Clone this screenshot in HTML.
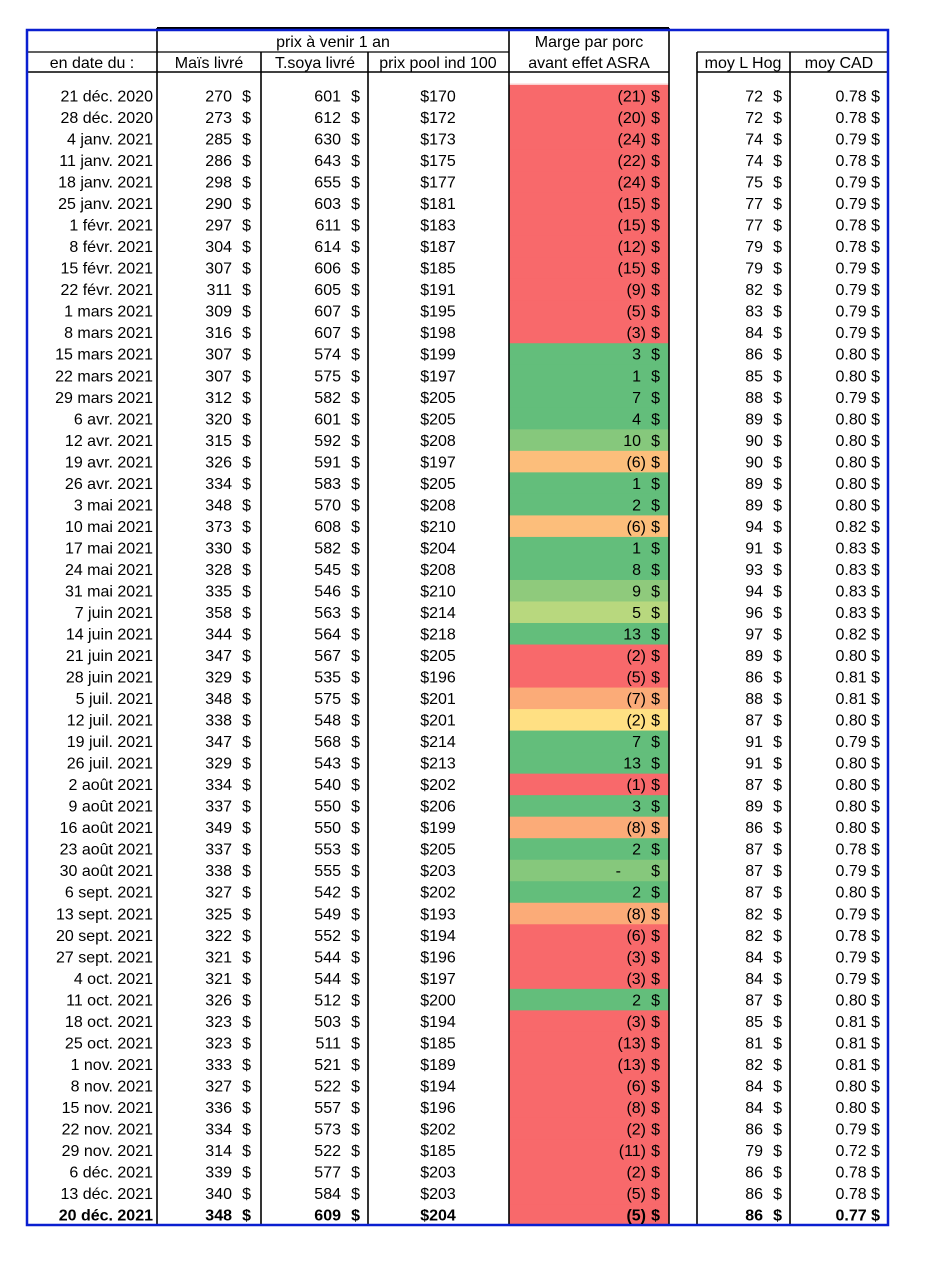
<!DOCTYPE html>
<html><head><meta charset="utf-8">
<style>
body{margin:0;background:#fff;}
svg{display:block;font-family:"Liberation Sans",Arial,sans-serif;font-size:16px;}
</style></head>
<body>
<svg id="t" width="928" height="1274" xmlns="http://www.w3.org/2000/svg"></svg>
<script>
const dates=["21 déc. 2020","28 déc. 2020","4 janv. 2021","11 janv. 2021","18 janv. 2021","25 janv. 2021","1 févr. 2021","8 févr. 2021","15 févr. 2021","22 févr. 2021","1 mars 2021","8 mars 2021","15 mars 2021","22 mars 2021","29 mars 2021","6 avr. 2021","12 avr. 2021","19 avr. 2021","26 avr. 2021","3 mai 2021","10 mai 2021","17 mai 2021","24 mai 2021","31 mai 2021","7 juin 2021","14 juin 2021","21 juin 2021","28 juin 2021","5 juil. 2021","12 juil. 2021","19 juil. 2021","26 juil. 2021","2 août 2021","9 août 2021","16 août 2021","23 août 2021","30 août 2021","6 sept. 2021","13 sept. 2021","20 sept. 2021","27 sept. 2021","4 oct. 2021","11 oct. 2021","18 oct. 2021","25 oct. 2021","1 nov. 2021","8 nov. 2021","15 nov. 2021","22 nov. 2021","29 nov. 2021","6 déc. 2021","13 déc. 2021","20 déc. 2021"];
const mais=[270,273,285,286,298,290,297,304,307,311,309,316,307,307,312,320,315,326,334,348,373,330,328,335,358,344,347,329,348,338,347,329,334,337,349,337,338,327,325,322,321,321,326,323,323,333,327,336,334,314,339,340,348];
const soya=[601,612,630,643,655,603,611,614,606,605,607,607,574,575,582,601,592,591,583,570,608,582,545,546,563,564,567,535,575,548,568,543,540,550,550,553,555,542,549,552,544,544,512,503,511,521,522,557,573,522,577,584,609];
const pool=[170,172,173,175,177,181,183,187,185,191,195,198,199,197,205,205,208,197,205,208,210,204,208,210,214,218,205,196,201,201,214,213,202,206,199,205,203,202,193,194,196,197,200,194,185,189,194,196,202,185,203,203,204];
const marge=[-21,-20,-24,-22,-24,-15,-15,-12,-15,-9,-5,-3,3,1,7,4,10,-6,1,2,-6,1,8,9,5,13,-2,-5,-7,-2,7,13,-1,3,-8,2,0,2,-8,-6,-3,-3,2,-3,-13,-13,-6,-8,-2,-11,-2,-5,-5];
const margeColor=["R","R","R","R","R","R","R","R","R","R","R","R","G","G","G","G","g1","O","G","G","O","G","G","g2","yg","G","R","R","O2","Y","G","G","R","G","O2","G","g1","G","O2","R","R","R","G","R","R","R","R","R","R","R","R","R","R"];
const hog=[72,72,74,74,75,77,77,79,79,82,83,84,86,85,88,89,90,90,89,89,94,91,93,94,96,97,89,86,88,87,91,91,87,89,86,87,87,87,82,82,84,84,87,85,81,82,84,84,86,79,86,86,86];
const cad=[0.78,0.78,0.79,0.78,0.79,0.79,0.78,0.78,0.79,0.79,0.79,0.79,0.80,0.80,0.79,0.80,0.80,0.80,0.80,0.80,0.82,0.83,0.83,0.83,0.83,0.82,0.80,0.81,0.81,0.80,0.79,0.80,0.80,0.80,0.80,0.78,0.79,0.80,0.79,0.78,0.79,0.79,0.80,0.81,0.81,0.81,0.80,0.80,0.79,0.72,0.78,0.78,0.77];
const palette={R:"#f8696b",G:"#63be7b",g1:"#86c87c",g2:"#8fca7c",yg:"#b8d87e",O:"#fcbe7b",O2:"#fbab78",Y:"#ffe083"};

const svg=document.getElementById('t');
const NS="http://www.w3.org/2000/svg";
function mk(tag,attrs,txt){const e=document.createElementNS(NS,tag);for(const k in attrs)e.setAttribute(k,attrs[k]);if(txt!==undefined)e.textContent=txt;svg.appendChild(e);return e;}
const rowTop0=85, rowH=21.52;
function rowY(i){return rowTop0+i*rowH;}

// marge fills
for(let i=0;i<marge.length;i++){
  const r=mk('rect',{x:509,y:rowY(i),width:160,height:rowH+0.5,fill:palette[margeColor[i]]});
  
  
}
mk('rect',{x:509,y:rowY(0)-1.5,width:160,height:1.5,fill:"#fbd0d0"});

// lines
const L=(x1,y1,x2,y2,c,w)=>mk('line',{x1,y1,x2,y2,stroke:c,'stroke-width':w});
L(157,28,509,28,"#000",2); L(509,28,669,28,"#000",2);
[157,261,368,509,669,697,790].forEach(x=>{
  const y1 = (x===261||x===368)?52:(x===697||x===790)?52:28;
  L(x,y1,x,1225,"#000",1.6);
});
L(27,52,509,52,"#000",1.2); L(697,52,888,52,"#000",1.2);
L(27,72,669,72,"#000",1.6); L(697,72,888,72,"#000",1.6);
// blue border
mk('rect',{x:27,y:30,width:861,height:1195,fill:"none",stroke:"#0a1fd0","stroke-width":2.5});

// headers
const H=(x,y,t,a,n)=>{const e=mk('text',{x,y,'text-anchor':a||'middle'},t);};
H(333,47,"prix à venir 1 an","middle","header-group-prix");
H(589,47,"Marge par porc","middle","header-marge-1");
H(589,68,"avant effet ASRA","middle","header-marge-2");
H(92,68,"en date du :","middle","header-date");
H(209,68,"Maïs livré","middle","header-mais");
H(315,68,"T.soya livré","middle","header-soya");
H(438,68,"prix pool ind 100","middle","header-pool");
H(743,68,"moy L Hog","middle","header-hog");
H(839,68,"moy CAD","middle","header-cad");

for(let i=0;i<dates.length;i++){
  const y=rowY(i)+16.5;
  const fw=(i===dates.length-1)?"bold":"normal";
  const T=(x,t,n,a)=>{const e=mk('text',{x,y,'text-anchor':a||'end','font-weight':fw},t);return e;};
  T(153,dates[i],'date-cell');
  T(232,String(mais[i]),'mais-value'); T(251,"$",'mais-currency');
  T(341,String(soya[i]),'soya-value'); T(360,"$",'soya-currency');
  T(438,"$"+pool[i],'pool-value','middle');
  const m=marge[i];
  T(660,"$",'marge-currency');
  if(m<0) T(646,"("+(-m)+")",'marge-value');
  else if(m===0) T(621,"-",'marge-value');
  else T(641,String(m),'marge-value');
  T(763,String(hog[i]),'hog-value'); T(782,"$",'hog-currency');
  T(880,cad[i].toFixed(2)+" $",'cad-value');
}
</script>
</body></html>
